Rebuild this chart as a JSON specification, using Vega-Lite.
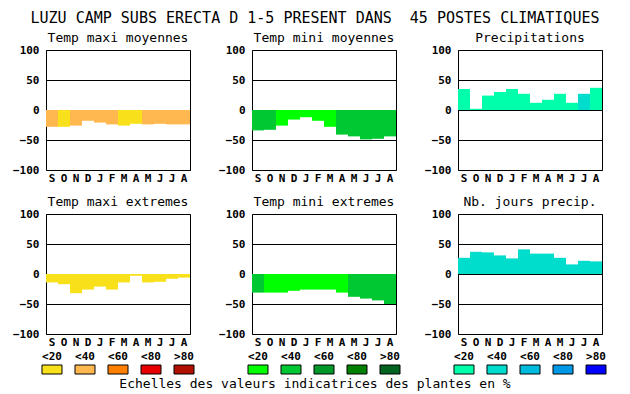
{
  "$schema": "https://vega.github.io/schema/vega-lite/v6.json",
  "background": "white",
  "padding": {"left": 11, "top": 10, "right": 10, "bottom": 4},
  "title": {"text": "LUZU CAMP SUBS ERECTA D 1-5 PRESENT DANS \u00a045 POSTES CLIMATIQUES", "font": "DejaVu Sans Mono", "fontSize": 15, "fontWeight": "normal", "color": "black", "anchor": "middle", "offset": 6, "dx": 6},
  "config": {
    "font": "DejaVu Sans Mono",
    "view": {"stroke": "black", "strokeWidth": 1},
    "title": {"font": "DejaVu Sans Mono", "fontSize": 13, "fontWeight": "normal", "color": "black", "offset": -1},
    "axis": {"domain": false, "ticks": false, "tickSize": 0, "labelFont": "DejaVu Sans Mono", "labelFontWeight": "bold", "labelFontSize": 11, "labelColor": "black", "gridColor": "black", "gridOpacity": 1, "gridWidth": 1, "title": null},
    "axisY": {"labelPadding": 7, "labelFlush": false, "labelOverlap": false, "minExtent": 34},
    "axisX": {"labelAngle": 0, "labelPadding": 2, "labelExpr": "substring(datum.label,0,1)", "grid": false}
  },
  "data": {"values": [
    {"panneau": "Temp maxi moyennes", "mois": "S", "valeur": -28, "classe": "<40"},
    {"panneau": "Temp maxi moyennes", "mois": "O", "valeur": -28, "classe": "<20"},
    {"panneau": "Temp maxi moyennes", "mois": "N", "valeur": -26, "classe": "<40"},
    {"panneau": "Temp maxi moyennes", "mois": "D", "valeur": -18, "classe": "<40"},
    {"panneau": "Temp maxi moyennes", "mois": "J1", "valeur": -21, "classe": "<40"},
    {"panneau": "Temp maxi moyennes", "mois": "F", "valeur": -24, "classe": "<40"},
    {"panneau": "Temp maxi moyennes", "mois": "M1", "valeur": -26, "classe": "<20"},
    {"panneau": "Temp maxi moyennes", "mois": "A1", "valeur": -23, "classe": "<20"},
    {"panneau": "Temp maxi moyennes", "mois": "M2", "valeur": -24, "classe": "<40"},
    {"panneau": "Temp maxi moyennes", "mois": "J2", "valeur": -23, "classe": "<40"},
    {"panneau": "Temp maxi moyennes", "mois": "J3", "valeur": -24, "classe": "<40"},
    {"panneau": "Temp maxi moyennes", "mois": "A2", "valeur": -24, "classe": "<40"},
    {"panneau": "Temp mini moyennes", "mois": "S", "valeur": -34, "classe": "<40"},
    {"panneau": "Temp mini moyennes", "mois": "O", "valeur": -33, "classe": "<40"},
    {"panneau": "Temp mini moyennes", "mois": "N", "valeur": -26, "classe": "<20"},
    {"panneau": "Temp mini moyennes", "mois": "D", "valeur": -16, "classe": "<20"},
    {"panneau": "Temp mini moyennes", "mois": "J1", "valeur": -12, "classe": "<20"},
    {"panneau": "Temp mini moyennes", "mois": "F", "valeur": -18, "classe": "<20"},
    {"panneau": "Temp mini moyennes", "mois": "M1", "valeur": -28, "classe": "<20"},
    {"panneau": "Temp mini moyennes", "mois": "A1", "valeur": -41, "classe": "<40"},
    {"panneau": "Temp mini moyennes", "mois": "M2", "valeur": -44, "classe": "<40"},
    {"panneau": "Temp mini moyennes", "mois": "J2", "valeur": -49, "classe": "<40"},
    {"panneau": "Temp mini moyennes", "mois": "J3", "valeur": -48, "classe": "<40"},
    {"panneau": "Temp mini moyennes", "mois": "A2", "valeur": -44, "classe": "<40"},
    {"panneau": "Precipitations", "mois": "S", "valeur": 35, "classe": "<20"},
    {"panneau": "Precipitations", "mois": "O", "valeur": 2, "classe": "<20"},
    {"panneau": "Precipitations", "mois": "N", "valeur": 24, "classe": "<20"},
    {"panneau": "Precipitations", "mois": "D", "valeur": 30, "classe": "<20"},
    {"panneau": "Precipitations", "mois": "J1", "valeur": 35, "classe": "<20"},
    {"panneau": "Precipitations", "mois": "F", "valeur": 27, "classe": "<20"},
    {"panneau": "Precipitations", "mois": "M1", "valeur": 12, "classe": "<20"},
    {"panneau": "Precipitations", "mois": "A1", "valeur": 17, "classe": "<20"},
    {"panneau": "Precipitations", "mois": "M2", "valeur": 27, "classe": "<20"},
    {"panneau": "Precipitations", "mois": "J2", "valeur": 12, "classe": "<20"},
    {"panneau": "Precipitations", "mois": "J3", "valeur": 27, "classe": "<40"},
    {"panneau": "Precipitations", "mois": "A2", "valeur": 37, "classe": "<20"},
    {"panneau": "Temp maxi extremes", "mois": "S", "valeur": -14, "classe": "<20"},
    {"panneau": "Temp maxi extremes", "mois": "O", "valeur": -17, "classe": "<20"},
    {"panneau": "Temp maxi extremes", "mois": "N", "valeur": -32, "classe": "<20"},
    {"panneau": "Temp maxi extremes", "mois": "D", "valeur": -26, "classe": "<20"},
    {"panneau": "Temp maxi extremes", "mois": "J1", "valeur": -21, "classe": "<20"},
    {"panneau": "Temp maxi extremes", "mois": "F", "valeur": -26, "classe": "<20"},
    {"panneau": "Temp maxi extremes", "mois": "M1", "valeur": -14, "classe": "<20"},
    {"panneau": "Temp maxi extremes", "mois": "A1", "valeur": -3, "classe": "<20"},
    {"panneau": "Temp maxi extremes", "mois": "M2", "valeur": -14, "classe": "<20"},
    {"panneau": "Temp maxi extremes", "mois": "J2", "valeur": -13, "classe": "<20"},
    {"panneau": "Temp maxi extremes", "mois": "J3", "valeur": -8, "classe": "<20"},
    {"panneau": "Temp maxi extremes", "mois": "A2", "valeur": -6, "classe": "<20"},
    {"panneau": "Temp mini extremes", "mois": "S", "valeur": -31, "classe": "<40"},
    {"panneau": "Temp mini extremes", "mois": "O", "valeur": -31, "classe": "<20"},
    {"panneau": "Temp mini extremes", "mois": "N", "valeur": -31, "classe": "<20"},
    {"panneau": "Temp mini extremes", "mois": "D", "valeur": -28, "classe": "<20"},
    {"panneau": "Temp mini extremes", "mois": "J1", "valeur": -26, "classe": "<20"},
    {"panneau": "Temp mini extremes", "mois": "F", "valeur": -26, "classe": "<20"},
    {"panneau": "Temp mini extremes", "mois": "M1", "valeur": -26, "classe": "<20"},
    {"panneau": "Temp mini extremes", "mois": "A1", "valeur": -31, "classe": "<20"},
    {"panneau": "Temp mini extremes", "mois": "M2", "valeur": -38, "classe": "<40"},
    {"panneau": "Temp mini extremes", "mois": "J2", "valeur": -41, "classe": "<40"},
    {"panneau": "Temp mini extremes", "mois": "J3", "valeur": -44, "classe": "<40"},
    {"panneau": "Temp mini extremes", "mois": "A2", "valeur": -50, "classe": "<40"},
    {"panneau": "Nb. jours precip.", "mois": "S", "valeur": 27, "classe": "<40"},
    {"panneau": "Nb. jours precip.", "mois": "O", "valeur": 37, "classe": "<40"},
    {"panneau": "Nb. jours precip.", "mois": "N", "valeur": 36, "classe": "<40"},
    {"panneau": "Nb. jours precip.", "mois": "D", "valeur": 31, "classe": "<40"},
    {"panneau": "Nb. jours precip.", "mois": "J1", "valeur": 26, "classe": "<40"},
    {"panneau": "Nb. jours precip.", "mois": "F", "valeur": 41, "classe": "<40"},
    {"panneau": "Nb. jours precip.", "mois": "M1", "valeur": 34, "classe": "<40"},
    {"panneau": "Nb. jours precip.", "mois": "A1", "valeur": 34, "classe": "<40"},
    {"panneau": "Nb. jours precip.", "mois": "M2", "valeur": 27, "classe": "<40"},
    {"panneau": "Nb. jours precip.", "mois": "J2", "valeur": 16, "classe": "<40"},
    {"panneau": "Nb. jours precip.", "mois": "J3", "valeur": 22, "classe": "<40"},
    {"panneau": "Nb. jours precip.", "mois": "A2", "valeur": 21, "classe": "<40"}
  ]},
  "spacing": 2,
  "resolve": {"scale": {"color": "independent"}},
  "vconcat": [
    {
      "spacing": 11,
      "resolve": {"scale": {"color": "independent"}},
      "vconcat": [
        {
          "bounds": "flush",
          "spacing": 62,
          "resolve": {"scale": {"color": "independent"}},
          "hconcat": [
            {
              "width": 144, "height": 120,
              "title": "Temp maxi moyennes",
              "transform": [{"filter": "datum.panneau === 'Temp maxi moyennes'"}],
              "mark": "bar",
              "encoding": {
                "x": {"field": "mois", "type": "nominal", "scale": {"domain": ["S","O","N","D","J1","F","M1","A1","M2","J2","J3","A2"], "paddingInner": 0, "paddingOuter": 0}},
                "y": {"field": "valeur", "type": "quantitative", "scale": {"domain": [-100, 100], "nice": false}, "axis": {"values": [-100, -50, 0, 50, 100]}},
                "color": {"field": "classe", "type": "nominal", "scale": {"domain": ["<20","<40","<60","<80",">80"], "range": ["#F8E01A","#FFB850","#FF8000","#E80000","#B01000"]}, "legend": null}
              }
            },
            {
              "width": 144, "height": 120,
              "title": "Temp mini moyennes",
              "transform": [{"filter": "datum.panneau === 'Temp mini moyennes'"}],
              "mark": "bar",
              "encoding": {
                "x": {"field": "mois", "type": "nominal", "scale": {"domain": ["S","O","N","D","J1","F","M1","A1","M2","J2","J3","A2"], "paddingInner": 0, "paddingOuter": 0}},
                "y": {"field": "valeur", "type": "quantitative", "scale": {"domain": [-100, 100], "nice": false}, "axis": {"values": [-100, -50, 0, 50, 100]}},
                "color": {"field": "classe", "type": "nominal", "scale": {"domain": ["<20","<40","<60","<80",">80"], "range": ["#00FF00","#00C832","#009828","#008000","#006420"]}, "legend": null}
              }
            },
            {
              "width": 144, "height": 120,
              "title": "Precipitations",
              "transform": [{"filter": "datum.panneau === 'Precipitations'"}],
              "mark": "bar",
              "encoding": {
                "x": {"field": "mois", "type": "nominal", "scale": {"domain": ["S","O","N","D","J1","F","M1","A1","M2","J2","J3","A2"], "paddingInner": 0, "paddingOuter": 0}},
                "y": {"field": "valeur", "type": "quantitative", "scale": {"domain": [-100, 100], "nice": false}, "axis": {"values": [-100, -50, 0, 50, 100]}},
                "color": {"field": "classe", "type": "nominal", "scale": {"domain": ["<20","<40","<60","<80",">80"], "range": ["#00FFAA","#00DDCC","#00BBDD","#0099E8","#0000FF"]}, "legend": null}
              }
            }
          ]
        },
        {
          "bounds": "flush",
          "spacing": 62,
          "resolve": {"scale": {"color": "independent"}},
          "hconcat": [
            {
              "width": 144, "height": 120,
              "title": "Temp maxi extremes",
              "transform": [{"filter": "datum.panneau === 'Temp maxi extremes'"}],
              "mark": "bar",
              "encoding": {
                "x": {"field": "mois", "type": "nominal", "scale": {"domain": ["S","O","N","D","J1","F","M1","A1","M2","J2","J3","A2"], "paddingInner": 0, "paddingOuter": 0}},
                "y": {"field": "valeur", "type": "quantitative", "scale": {"domain": [-100, 100], "nice": false}, "axis": {"values": [-100, -50, 0, 50, 100]}},
                "color": {"field": "classe", "type": "nominal", "scale": {"domain": ["<20","<40","<60","<80",">80"], "range": ["#F8E01A","#FFB850","#FF8000","#E80000","#B01000"]}, "legend": null}
              }
            },
            {
              "width": 144, "height": 120,
              "title": "Temp mini extremes",
              "transform": [{"filter": "datum.panneau === 'Temp mini extremes'"}],
              "mark": "bar",
              "encoding": {
                "x": {"field": "mois", "type": "nominal", "scale": {"domain": ["S","O","N","D","J1","F","M1","A1","M2","J2","J3","A2"], "paddingInner": 0, "paddingOuter": 0}},
                "y": {"field": "valeur", "type": "quantitative", "scale": {"domain": [-100, 100], "nice": false}, "axis": {"values": [-100, -50, 0, 50, 100]}},
                "color": {"field": "classe", "type": "nominal", "scale": {"domain": ["<20","<40","<60","<80",">80"], "range": ["#00FF00","#00C832","#009828","#008000","#006420"]}, "legend": null}
              }
            },
            {
              "width": 144, "height": 120,
              "title": "Nb. jours precip.",
              "transform": [{"filter": "datum.panneau === 'Nb. jours precip.'"}],
              "mark": "bar",
              "encoding": {
                "x": {"field": "mois", "type": "nominal", "scale": {"domain": ["S","O","N","D","J1","F","M1","A1","M2","J2","J3","A2"], "paddingInner": 0, "paddingOuter": 0}},
                "y": {"field": "valeur", "type": "quantitative", "scale": {"domain": [-100, 100], "nice": false}, "axis": {"values": [-100, -50, 0, 50, 100]}},
                "color": {"field": "classe", "type": "nominal", "scale": {"domain": ["<20","<40","<60","<80",">80"], "range": ["#00FFAA","#00DDCC","#00BBDD","#0099E8","#0000FF"]}, "legend": null}
              }
            }
          ]
        }
      ]
    },
    {
      "bounds": "flush",
      "spacing": 62,
      "resolve": {"scale": {"color": "independent"}},
      "hconcat": [
        {
          "width": 144, "height": 9,
          "view": {"stroke": null},
          "data": {"values": [{"classe": "<20"}, {"classe": "<40"}, {"classe": "<60"}, {"classe": "<80"}, {"classe": ">80"}]},
          "mark": {"type": "bar", "width": 20, "stroke": "black", "strokeWidth": 1},
          "encoding": {
            "x": {"field": "classe", "type": "nominal", "sort": null, "scale": {"paddingInner": 0.9, "paddingOuter": 0.1318}, "axis": {"orient": "top", "labelExpr": "datum.label", "labelPadding": 4}},
            "y": {"datum": "l", "type": "nominal", "scale": {"paddingInner": 0, "paddingOuter": 0}, "axis": {"labels": false, "grid": false, "minExtent": 34}},
            "color": {"field": "classe", "type": "nominal", "scale": {"domain": ["<20","<40","<60","<80",">80"], "range": ["#F8E01A","#FFB850","#FF8000","#E80000","#B01000"]}, "legend": null}
          }
        },
        {
          "width": 144, "height": 9,
          "view": {"stroke": null},
          "title": {"text": "Echelles des valeurs indicatrices des plantes en %", "orient": "bottom", "offset": 3, "dx": -9},
          "data": {"values": [{"classe": "<20"}, {"classe": "<40"}, {"classe": "<60"}, {"classe": "<80"}, {"classe": ">80"}]},
          "mark": {"type": "bar", "width": 20, "stroke": "black", "strokeWidth": 1},
          "encoding": {
            "x": {"field": "classe", "type": "nominal", "sort": null, "scale": {"paddingInner": 0.9, "paddingOuter": 0.1318}, "axis": {"orient": "top", "labelExpr": "datum.label", "labelPadding": 4}},
            "color": {"field": "classe", "type": "nominal", "scale": {"domain": ["<20","<40","<60","<80",">80"], "range": ["#00FF00","#00C832","#009828","#008000","#006420"]}, "legend": null}
          }
        },
        {
          "width": 144, "height": 9,
          "view": {"stroke": null},
          "data": {"values": [{"classe": "<20"}, {"classe": "<40"}, {"classe": "<60"}, {"classe": "<80"}, {"classe": ">80"}]},
          "mark": {"type": "bar", "width": 20, "stroke": "black", "strokeWidth": 1},
          "encoding": {
            "x": {"field": "classe", "type": "nominal", "sort": null, "scale": {"paddingInner": 0.9, "paddingOuter": 0.1318}, "axis": {"orient": "top", "labelExpr": "datum.label", "labelPadding": 4}},
            "color": {"field": "classe", "type": "nominal", "scale": {"domain": ["<20","<40","<60","<80",">80"], "range": ["#00FFAA","#00DDCC","#00BBDD","#0099E8","#0000FF"]}, "legend": null}
          }
        }
      ]
    }
  ]
}
